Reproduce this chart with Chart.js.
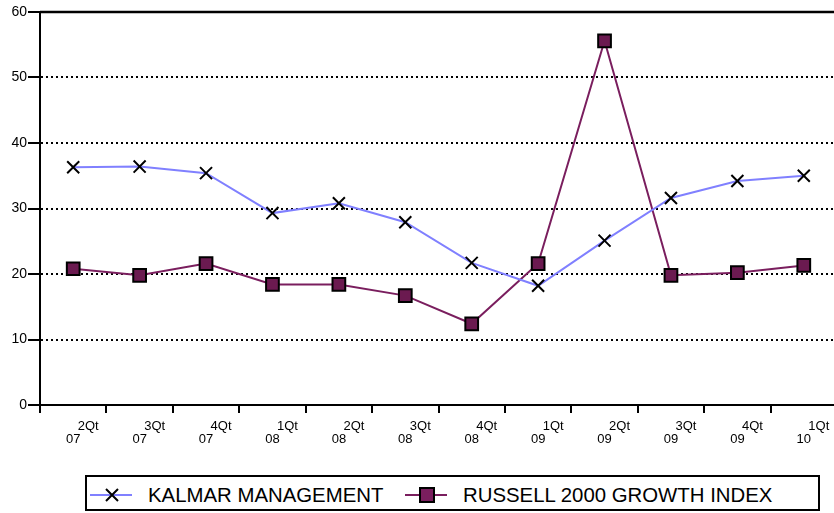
<!DOCTYPE html>
<html>
<head>
<meta charset="utf-8">
<script src="https://cdn.jsdelivr.net/npm/chart.js@4"></script>
<style>
    html, body { margin: 0; padding: 0; background: #fff; overflow: hidden; }
    #wrap { position: relative; width: 848px; height: 470px; }
    #legend {
        position: absolute; left: 85px; top: 475px; width: 735px; height: 36px;
        border: 2px solid #000; box-sizing: border-box;
        font-family: "Liberation Sans", Arial, sans-serif;
        font-size: 21px; color: #000;
    }
    #legend svg { position: absolute; top: 8px; }
    #legend span {
        position: absolute; top: 7px; line-height: 21px; white-space: nowrap;
        display: inline-block; transform: scaleX(0.97); transform-origin: left center;
    }
</style>
</head>
<body>
<div id="wrap"><canvas id="chart" width="848" height="470"></canvas></div>
<div id="legend">
    <svg style="left:3px" width="42" height="20"><line x1="0" y1="10" x2="42" y2="10" stroke="#8080ff" stroke-width="2"/>
        <path d="M16 4 L28 16 M28 4 L16 16" stroke="#000" stroke-width="2"/></svg>
    <span style="left:61px">KALMAR MANAGEMENT</span>
    <svg style="left:318px" width="42" height="20"><line x1="0" y1="10" x2="42" y2="10" stroke="#7a1e5e" stroke-width="2"/>
        <rect x="15" y="3" width="14" height="14" fill="#7a1e5e" stroke="#000" stroke-width="2"/></svg>
    <span style="left:376px">RUSSELL 2000 GROWTH INDEX</span>
</div>
<script>
// Quarters 2Q07 .. 1Q10
const quartiers = ['2Qt', '3Qt', '4Qt', '1Qt', '2Qt', '3Qt', '4Qt', '1Qt', '2Qt', '3Qt', '4Qt', '1Qt'];
const anos = ['07', '07', '07', '08', '08', '08', '08', '09', '09', '09', '09', '10'];
const kalmar = [36.3, 36.4, 35.4, 29.3, 30.8, 27.9, 21.7, 18.2, 25.1, 31.6, 34.2, 35.0];
const russell = [20.8, 19.8, 21.6, 18.4, 18.4, 16.7, 12.4, 21.6, 55.6, 19.8, 20.2, 21.3];
const yTicks = [0, 10, 20, 30, 40, 50, 60];

const labels = quartiers.map((q, i) => q + ' ' + anos[i]);

// desenha a moldura superior e os rótulos do eixo x em duas linhas
const extras = {
    id: 'extras',
    afterDraw(chart) {
        const ctx = chart.ctx;
        const area = chart.chartArea;
        const xs = chart.scales.x;
        ctx.save();
        ctx.strokeStyle = '#000';
        ctx.lineWidth = 2.5;
        ctx.beginPath();
        ctx.moveTo(area.left, area.top);
        ctx.lineTo(area.right, area.top);
        ctx.stroke();

        ctx.fillStyle = '#000';
        ctx.font = '13px "Liberation Sans", Arial, sans-serif';
        ctx.textAlign = 'center';
        ctx.textBaseline = 'middle';
        quartiers.forEach((q, i) => {
            const x = xs.getPixelForValue(i);
            ctx.fillText(q, x + 15, area.bottom + 21);
            ctx.fillText(anos[i], x, area.bottom + 34);
        });
        ctx.restore();
    }
};

new Chart(document.getElementById('chart'), {
    type: 'line',
    data: {
        labels: labels,
        datasets: [
            {
                label: 'KALMAR MANAGEMENT',
                data: kalmar,
                borderColor: '#8080ff',
                borderWidth: 2,
                tension: 0,
                pointStyle: 'crossRot',
                pointRadius: 8.5,
                pointBorderColor: '#000',
                pointBorderWidth: 2,
                order: 1
            },
            {
                label: 'RUSSELL 2000 GROWTH INDEX',
                data: russell,
                borderColor: '#7a1e5e',
                borderWidth: 2,
                tension: 0,
                pointStyle: 'rect',
                pointRadius: 9,
                pointBackgroundColor: '#6b1a50',
                pointBorderColor: '#000',
                pointBorderWidth: 2,
                order: 2
            }
        ]
    },
    options: {
        responsive: false,
        animation: false,
        layout: { padding: { top: 12, right: 0, left: 0, bottom: 0 } },
        plugins: { legend: { display: false }, tooltip: { enabled: false } },
        scales: {
            x: {
                offset: true,
                afterFit: (s) => { s.height = 65; },
                grid: { offset: true, drawOnChartArea: false, drawTicks: true, tickLength: 8, color: '#000', lineWidth: 2 },
                border: { display: true, color: '#000', width: 2 },
                ticks: { display: false }
            },
            y: {
                min: 0, max: 60,
                afterFit: (s) => { s.width = 40; },
                afterBuildTicks: (s) => { s.ticks = yTicks.map(v => ({ value: v })); },
                grid: {
                    color: '#000', lineWidth: 2, tickLength: 12,
                    tickBorderDash: [], tickColor: '#000'
                },
                border: { display: true, color: '#000', width: 2, dash: [2, 3] },
                ticks: {
                    color: '#000', padding: 1,
                    font: { family: '"Liberation Sans", Arial, sans-serif', size: 14 }
                }
            }
        }
    },
    plugins: [extras]
});
</script>
</body>
</html>
